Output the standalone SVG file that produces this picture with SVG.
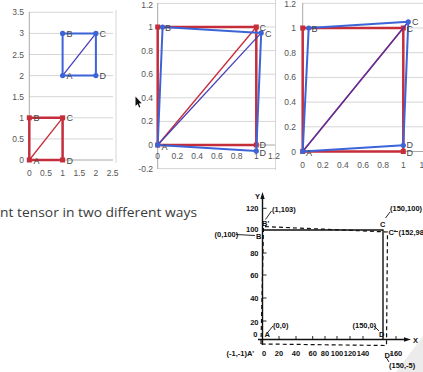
<svg xmlns="http://www.w3.org/2000/svg" width="423" height="372" viewBox="0 0 423 372">
<style>
.grid{stroke:#d6d6d6;stroke-width:1;fill:none}
.axis{stroke:#a8a8a8;stroke-width:1;fill:none}
.tl{font-family:"Liberation Sans",Arial,sans-serif;font-size:8.5px;fill:#555}
.tr{text-anchor:end}
.tm{text-anchor:middle}
.pl{font-family:"Liberation Sans",Arial,sans-serif;font-size:9px;fill:#444}
.red{stroke:#c62d3a;stroke-width:2.5;fill:none;stroke-linejoin:round}
.redd{stroke:#c62d3a;stroke-width:1.3;fill:none}
.blue{stroke:#3b64d8;stroke-width:2;fill:none;stroke-linejoin:round}
.blued{stroke:#4640b8;stroke-width:1.3;fill:none}
.rm{fill:#c62d3a}
.bm{fill:#3b64d8}
.ink{stroke:#111;stroke-width:1.4;fill:none}
.inkd{stroke:#111;stroke-width:1.2;fill:none;stroke-dasharray:4 3}
.lead{stroke:#111;stroke-width:0.9;fill:none}
.hw{font-family:"Liberation Sans",Arial,sans-serif;font-size:7.5px;font-weight:bold;fill:#111}
</style>
<rect width="423" height="372" fill="#fff"/>

<g id="chart1">
  <g class="grid">
    <line x1="29.3" y1="12.3" x2="113" y2="12.3"/>
    <line x1="29.3" y1="33.4" x2="113" y2="33.4"/>
    <line x1="29.3" y1="54.5" x2="113" y2="54.5"/>
    <line x1="29.3" y1="75.6" x2="113" y2="75.6"/>
    <line x1="29.3" y1="96.7" x2="113" y2="96.7"/>
    <line x1="29.3" y1="117.8" x2="113" y2="117.8"/>
    <line x1="29.3" y1="138.9" x2="113" y2="138.9"/>
    <line x1="116" y1="10" x2="116" y2="163"/>
  </g>
  <g class="axis">
    <line x1="29.3" y1="12" x2="29.3" y2="162"/>
    <line x1="29.3" y1="160" x2="113" y2="160"/>
  </g>
  <g class="tl tr">
    <text x="24" y="15.3">3.5</text>
    <text x="24" y="36.4">3</text>
    <text x="24" y="57.5">2.5</text>
    <text x="24" y="78.6">2</text>
    <text x="24" y="99.7">1.5</text>
    <text x="24" y="120.8">1</text>
    <text x="24" y="141.9">0.5</text>
    <text x="24" y="163">0</text>
  </g>
  <g class="tl tm">
    <text x="29.3" y="176">0</text>
    <text x="46" y="176">0.5</text>
    <text x="62.6" y="176">1</text>
    <text x="79.3" y="176">1.5</text>
    <text x="95.9" y="176">2</text>
    <text x="112.6" y="176">2.5</text>
  </g>
  <g id="c1-red">
    <polygon class="red" points="29.3,160 29.3,117.8 62.6,117.8 62.6,160"/>
    <line class="redd" x1="29.3" y1="160" x2="62.6" y2="117.8"/>
    <rect class="rm" x="26.8" y="157.5" width="5" height="5"/>
    <rect class="rm" x="26.8" y="115.3" width="5" height="5"/>
    <rect class="rm" x="60.1" y="115.3" width="5" height="5"/>
    <rect class="rm" x="60.1" y="157.5" width="5" height="5"/>
    <g class="pl">
      <text x="33.5" y="163.5">A</text>
      <text x="33.5" y="121.3">B</text>
      <text x="66.5" y="121.3">C</text>
      <text x="66.5" y="163.5">D</text>
    </g>
  </g>
  <g id="c1-blue">
    <polygon class="blue" points="62.6,75.6 62.6,33.4 95.9,33.4 95.9,75.6"/>
    <line class="blued" x1="62.6" y1="75.6" x2="95.9" y2="33.4"/>
    <circle class="bm" cx="62.6" cy="75.6" r="2.6"/>
    <circle class="bm" cx="62.6" cy="33.4" r="2.6"/>
    <circle class="bm" cx="95.9" cy="33.4" r="2.6"/>
    <circle class="bm" cx="95.9" cy="75.6" r="2.6"/>
    <g class="pl">
      <text x="66.5" y="79">A</text>
      <text x="66.5" y="36.8">B</text>
      <text x="99.5" y="36.8">C</text>
      <text x="99.5" y="79">D</text>
    </g>
  </g>
</g>

<g id="chart2">
  <g class="grid">
    <line x1="157.7" y1="3.4" x2="275" y2="3.4"/>
    <line x1="157.7" y1="27" x2="275" y2="27"/>
    <line x1="157.7" y1="50.6" x2="275" y2="50.6"/>
    <line x1="157.7" y1="74.2" x2="275" y2="74.2"/>
    <line x1="157.7" y1="97.8" x2="275" y2="97.8"/>
    <line x1="157.7" y1="121.4" x2="275" y2="121.4"/>
    <line x1="157.7" y1="168.6" x2="275" y2="168.6"/>
    <line x1="275.5" y1="0" x2="275.5" y2="170"/>
  </g>
  <g class="axis">
    <line x1="157.7" y1="3" x2="157.7" y2="169"/>
    <line x1="157.7" y1="145" x2="275" y2="145"/>
  </g>
  <g class="tl tr">
    <text x="153" y="8">1.2</text>
    <text x="153" y="30">1</text>
    <text x="153" y="53.6">0.8</text>
    <text x="153" y="77.2">0.6</text>
    <text x="153" y="100.8">0.4</text>
    <text x="153" y="124.4">0.2</text>
    <text x="153" y="148">0</text>
    <text x="153" y="171.6">-0.2</text>
  </g>
  <g class="tl tm">
    <text x="157.7" y="159">0</text>
    <text x="177.4" y="159">0.2</text>
    <text x="197.1" y="159">0.4</text>
    <text x="216.9" y="159">0.6</text>
    <text x="236.6" y="159">0.8</text>
    <text x="256.3" y="159">1</text>
    <text x="274" y="159">1.2</text>
  </g>
  <g id="c2-red">
    <polygon class="red" points="157.7,145 157.7,27 256.3,27 256.3,145"/>
    <line class="redd" x1="157.7" y1="145" x2="256.3" y2="27"/>
    <rect class="rm" x="155.2" y="142.5" width="5" height="5"/>
    <rect class="rm" x="155.2" y="24.5" width="5" height="5"/>
    <rect class="rm" x="253.8" y="24.5" width="5" height="5"/>
    <rect class="rm" x="253.8" y="142.5" width="5" height="5"/>
  </g>
  <g id="c2-blue">
    <polygon class="blue" points="157.7,145 162.6,27 261.2,32.9 256.3,150.9"/>
    <line class="blued" x1="157.7" y1="145" x2="261.2" y2="32.9"/>
    <circle class="bm" cx="157.7" cy="145" r="2.6"/>
    <circle class="bm" cx="162.6" cy="27" r="2.6"/>
    <circle class="bm" cx="261.2" cy="32.9" r="2.6"/>
    <circle class="bm" cx="256.3" cy="150.9" r="2.6"/>
  </g>
  <g class="pl">
    <text x="161.5" y="149.5">A</text>
    <text x="165" y="30.5">B</text>
    <text x="259.5" y="30.5">C</text>
    <text x="265" y="37">C</text>
    <text x="259.5" y="148">D</text>
    <text x="259.5" y="155.5">D</text>
  </g>
  <polygon id="cursor" points="135.5,96.5 135.5,106 137.6,104 139.2,107.6 140.4,107 138.9,103.5 141.7,103.3" fill="#111"/>
</g>

<g id="chart3">
  <g class="grid">
    <line x1="302.7" y1="3.3" x2="423" y2="3.3"/>
    <line x1="302.7" y1="28" x2="423" y2="28"/>
    <line x1="302.7" y1="52.7" x2="423" y2="52.7"/>
    <line x1="302.7" y1="77.4" x2="423" y2="77.4"/>
    <line x1="302.7" y1="102.1" x2="423" y2="102.1"/>
    <line x1="302.7" y1="126.8" x2="423" y2="126.8"/>
  </g>
  <g class="axis">
    <line x1="302.7" y1="3" x2="302.7" y2="154"/>
    <line x1="302.7" y1="151.5" x2="423" y2="151.5"/>
  </g>
  <g class="tl tr">
    <text x="296" y="7">1.2</text>
    <text x="296" y="31">1</text>
    <text x="296" y="55.7">0.8</text>
    <text x="296" y="80.4">0.6</text>
    <text x="296" y="105.1">0.4</text>
    <text x="296" y="129.8">0.2</text>
    <text x="296" y="154.5">0</text>
  </g>
  <g class="tl tm">
    <text x="302.7" y="167.5">0</text>
    <text x="322.8" y="167.5">0.2</text>
    <text x="342.9" y="167.5">0.4</text>
    <text x="363.1" y="167.5">0.6</text>
    <text x="383.2" y="167.5">0.8</text>
    <text x="403.3" y="167.5">1</text>
  </g>
  <text class="tl" x="419.5" y="167.5">1.2</text>
  <g id="c3-red">
    <polygon class="red" points="302.7,151.5 302.7,28 403.3,28 403.3,151.5"/>
    <line class="redd" x1="302.7" y1="151.5" x2="403.3" y2="28"/>
    <rect class="rm" x="300.2" y="149" width="5" height="5"/>
    <rect class="rm" x="300.2" y="25.5" width="5" height="5"/>
    <rect class="rm" x="400.8" y="25.5" width="5" height="5"/>
    <rect class="rm" x="400.8" y="149" width="5" height="5"/>
  </g>
  <g id="c3-blue">
    <polygon class="blue" points="302.7,151.5 308.7,28 408.3,21.8 403.3,145.3"/>
    <line stroke="#5a2fa0" stroke-width="1.4" x1="302.7" y1="151.5" x2="408.3" y2="21.8"/>
    <circle class="bm" cx="302.7" cy="151.5" r="2.6"/>
    <circle class="bm" cx="308.7" cy="28" r="2.6"/>
    <circle class="bm" cx="408.3" cy="21.8" r="2.6"/>
    <circle class="bm" cx="403.3" cy="145.3" r="2.6"/>
  </g>
  <g class="pl">
    <text x="306" y="155.5">A</text>
    <text x="311.5" y="31.5">B</text>
    <text x="406.5" y="31.5">C</text>
    <text x="412" y="25">C</text>
    <text x="406.5" y="148">D</text>
    <text x="406.5" y="155.5">D</text>
  </g>
</g>

<text id="caption" x="0" y="217" font-family="'Open Sans','Liberation Sans',sans-serif" font-size="13" fill="#3a3a3a" textLength="197" lengthAdjust="spacingAndGlyphs">nt tensor in two different ways</text>

<g id="chart4">
  <polygon points="396,372 423,336 423,372" fill="#ececec"/>
  <g id="c4-axes">
    <line class="ink" x1="262.5" y1="345" x2="262.5" y2="196"/>
    <polygon points="262.5,192 260.3,199 264.7,199" fill="#111"/>
    <line class="ink" x1="258" y1="339.5" x2="406" y2="339.5"/>
    <polygon points="411,339.5 404,337.3 404,341.7" fill="#111"/>
    <g class="lead">
      <line x1="262.5" y1="208.3" x2="266.5" y2="208.3"/>
      <line x1="262.5" y1="253" x2="266.5" y2="253"/>
      <line x1="262.5" y1="275" x2="266.5" y2="275"/>
      <line x1="262.5" y1="298" x2="266.5" y2="298"/>
      <line x1="262.5" y1="321" x2="266.5" y2="321"/>
      <line x1="279" y1="339.5" x2="279" y2="336"/>
      <line x1="296" y1="339.5" x2="296" y2="336"/>
      <line x1="312.7" y1="339.5" x2="312.7" y2="336"/>
      <line x1="325" y1="339.5" x2="325" y2="336"/>
      <line x1="337" y1="339.5" x2="337" y2="336"/>
      <line x1="350" y1="339.5" x2="350" y2="336"/>
      <line x1="363" y1="339.5" x2="363" y2="336"/>
      <line x1="396" y1="339.5" x2="396" y2="336"/>
    </g>
    <text class="hw" x="255" y="199">Y</text>
    <text class="hw" x="413" y="342.5">X</text>
  </g>
  <g id="c4-original">
    <polyline class="ink" points="262.5,230 383,230 383,339.5" stroke-width="1.8"/>
  </g>
  <g id="c4-deformed">
    <polygon class="inkd" points="261,344 263.5,226.5 387.5,232 386.5,345.5"/>
  </g>
  <g class="hw" text-anchor="end">
    <text x="258.5" y="211">120</text>
    <text x="258.5" y="232">100</text>
    <text x="258.5" y="256">80</text>
    <text x="258.5" y="278">60</text>
    <text x="258.5" y="301">40</text>
    <text x="258.5" y="324.5">20</text>
    <text x="257.5" y="337">0</text>
  </g>
  <g class="hw" text-anchor="middle">
    <text x="279" y="356">20</text>
    <text x="296" y="356">40</text>
    <text x="312.7" y="356">60</text>
    <text x="325" y="356">80</text>
    <text x="337" y="356">100</text>
    <text x="350" y="356">120</text>
    <text x="363" y="356">140</text>
    <text x="396" y="356">160</text>
  </g>
  <g class="hw">
    <text x="226.5" y="356">(-1,-1)A'</text>
    <text x="262" y="356">0</text>
    <text x="384.5" y="357.5">D'</text>
    <text x="389" y="368">(150,-5)</text>
    <text x="262" y="226">B'</text>
    <text x="272" y="212">(1,103)</text>
    <text x="214.5" y="237">(0,100)</text>
    <text x="256" y="239">B</text>
    <text x="380" y="226.5">C</text>
    <text x="390" y="211">(150,100)</text>
    <text x="388.5" y="234.5">C'</text>
    <text x="398.5" y="234.5">(152,98)</text>
    <text x="273" y="328">(0,0)</text>
    <text x="264.5" y="337">A</text>
    <text x="352.5" y="328">(150,0)</text>
    <text x="379" y="337">D</text>
  </g>
  <g class="lead">
    <line x1="265.5" y1="219.5" x2="271.5" y2="211"/>
    <line x1="385.5" y1="218" x2="390" y2="212"/>
    <line x1="236" y1="234.5" x2="255" y2="235.5"/>
    <line x1="394" y1="231.5" x2="398" y2="231.5"/>
    <line x1="268" y1="332" x2="273" y2="326"/>
    <line x1="374" y1="326" x2="379" y2="331"/>
    <line x1="386.5" y1="358" x2="389" y2="362"/>
  </g>
</g>
</svg>
